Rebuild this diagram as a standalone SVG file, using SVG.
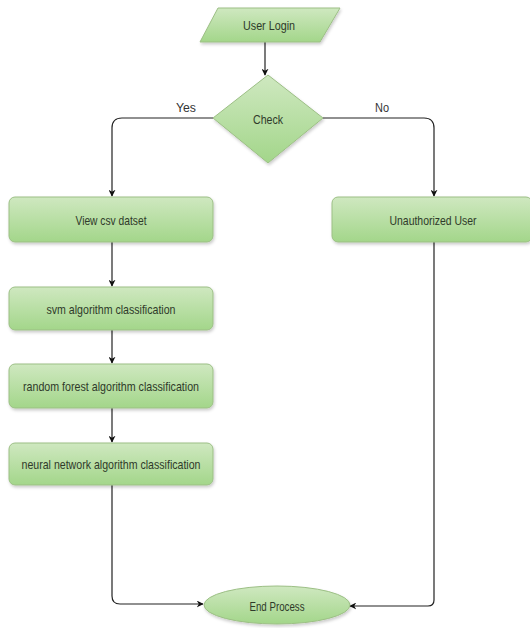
<svg xmlns="http://www.w3.org/2000/svg" width="530" height="628" viewBox="0 0 530 628">
<style>
.n{stroke:#9cbf85;stroke-width:1;fill:url(#g);filter:url(#sh)}
.t{font-family:"Liberation Sans",Arial,sans-serif;font-size:13px;fill:#2f3a2a;text-anchor:middle;dominant-baseline:central}
.l{font-family:"Liberation Sans",Arial,sans-serif;font-size:12px;fill:#333;text-anchor:middle}
.c{fill:none;stroke:#222;stroke-width:1.2;marker-end:url(#a)}
</style>
<defs>
<linearGradient id="g" x1="0" y1="0" x2="0" y2="1">
<stop offset="0" stop-color="#cfe8c0"/>
<stop offset="1" stop-color="#a3d68a"/>
</linearGradient>
<filter id="sh" x="-10%" y="-10%" width="120%" height="130%">
<feDropShadow dx="1" dy="2" stdDeviation="1.5" flood-color="#000" flood-opacity="0.2"/>
</filter>
<marker id="a" viewBox="0 0 10 10" refX="9" refY="5" markerWidth="7" markerHeight="7" orient="auto" markerUnits="userSpaceOnUse">
<path d="M0,0 L10,5 L0,10 L3,5 z" fill="#111"/>
</marker>
</defs>
<g id="connectors">
<path class="c" d="M265,42 V75"/>
<path class="c" d="M213,118 H122 Q112,118 112,128 V196"/>
<path class="c" d="M323,118 H424 Q434,118 434,128 V196"/>
<path class="c" d="M112,242 V286"/>
<path class="c" d="M112,330 V363"/>
<path class="c" d="M112,408 V442"/>
<path class="c" d="M112,485 V596 Q112,604 120,604 H203"/>
<path class="c" d="M434,242 V600 Q434,606 428,606 H350"/>
<text class="l" x="186" y="112" textLength="20" lengthAdjust="spacingAndGlyphs">Yes</text>
<text class="l" x="382" y="112" textLength="14" lengthAdjust="spacingAndGlyphs">No</text>
</g>
<g id="user-login">
<polygon class="n" points="218,8 340,8 320,42 200,42"/>
<text class="t" x="269" y="25" textLength="52" lengthAdjust="spacingAndGlyphs">User Login</text>
</g>
<g id="check">
<polygon class="n" points="268,75 323,118 268,163 213,118"/>
<text class="t" x="268" y="119" textLength="30" lengthAdjust="spacingAndGlyphs">Check</text>
</g>
<g id="view-csv">
<rect class="n" x="9" y="197" width="204" height="45" rx="6"/>
<text class="t" x="111" y="220" textLength="71" lengthAdjust="spacingAndGlyphs">View csv datset</text>
</g>
<g id="unauthorized">
<rect class="n" x="332" y="197" width="200" height="45" rx="6"/>
<text class="t" x="433" y="220" textLength="87" lengthAdjust="spacingAndGlyphs">Unauthorized User</text>
</g>
<g id="svm">
<rect class="n" x="9" y="287" width="204" height="43" rx="6"/>
<text class="t" x="111" y="309" textLength="129" lengthAdjust="spacingAndGlyphs">svm algorithm classification</text>
</g>
<g id="random-forest">
<rect class="n" x="9" y="364" width="204" height="44" rx="6"/>
<text class="t" x="111" y="386" textLength="176" lengthAdjust="spacingAndGlyphs">random forest algorithm classification</text>
</g>
<g id="neural-network">
<rect class="n" x="9" y="443" width="204" height="42" rx="6"/>
<text class="t" x="111" y="464" textLength="179" lengthAdjust="spacingAndGlyphs">neural network algorithm classification</text>
</g>
<g id="end-process">
<ellipse class="n" cx="277" cy="605" rx="73" ry="19"/>
<text class="t" x="277" y="606" textLength="55" lengthAdjust="spacingAndGlyphs">End Process</text>
</g>
</svg>
